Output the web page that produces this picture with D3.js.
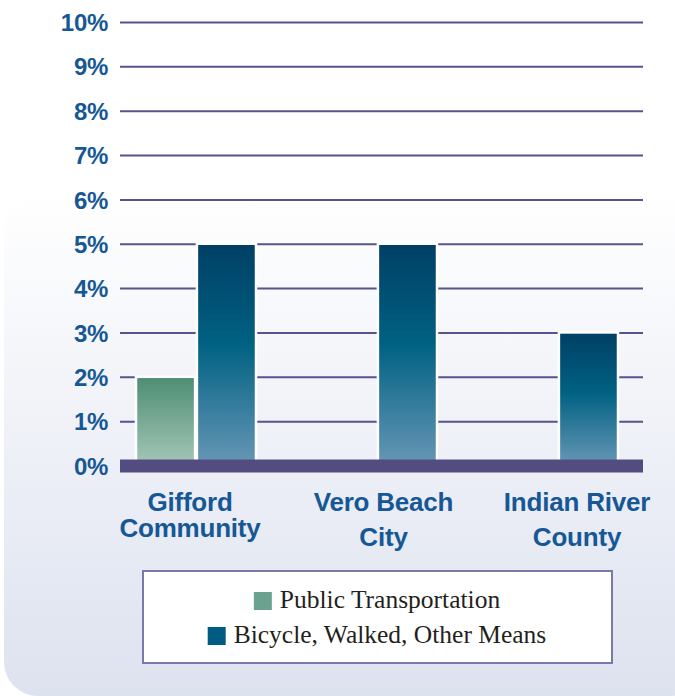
<!DOCTYPE html>
<html>
<head>
<meta charset="utf-8">
<script src="https://cdnjs.cloudflare.com/ajax/libs/d3/7.8.5/d3.min.js"></script>
<style>
  html, body { margin: 0; padding: 0; background: #ffffff; }
  svg { display: block; }
</style>
</head>
<body>
<div id="chart"></div>
<script>
// chart data
var categories = ["Gifford Community", "Vero Beach City", "Indian River County"];
var categoryLines = [["Gifford", "Community"], ["Vero Beach", "City"], ["Indian River", "County"]];
var seriesNames = ["Public Transportation", "Bicycle, Walked, Other Means"];
var publicTransportation = [2, 0, 0];
var bicycleWalkedOther = [5, 5, 3];
var yTicks = [0, 1, 2, 3, 4, 5, 6, 7, 8, 9, 10];

var width = 675;
var height = 696;

var svg = d3.select('#chart')
  .append('svg')
    .attr('width', width)
    .attr('height', height);

var defs = svg.append('defs');

// background panel gradient
var bg = defs.append('linearGradient')
    .attr('id', 'bgGrad')
    .attr('x1', 0).attr('y1', 0).attr('x2', 0).attr('y2', 1);
bg.append('stop').attr('offset', '0%').attr('stop-color', '#ffffff');
bg.append('stop').attr('offset', '100%').attr('stop-color', '#dde2ef');

var greenGrad = defs.append('linearGradient')
    .attr('id', 'greenGrad')
    .attr('x1', 0).attr('y1', 0).attr('x2', 0).attr('y2', 1);
greenGrad.append('stop').attr('offset', '0%').attr('stop-color', '#4d8d73');
greenGrad.append('stop').attr('offset', '100%').attr('stop-color', '#a5c7b8');

var blueGrad = defs.append('linearGradient')
    .attr('id', 'blueGrad')
    .attr('x1', 0).attr('y1', 0).attr('x2', 0).attr('y2', 1);
blueGrad.append('stop').attr('offset', '0%').attr('stop-color', '#003f65');
blueGrad.append('stop').attr('offset', '45%').attr('stop-color', '#006182');
blueGrad.append('stop').attr('offset', '100%').attr('stop-color', '#6897b6');

svg.append('rect')
    .attr('x', 4)
    .attr('y', 195)
    .attr('width', 700)
    .attr('height', 501)
    .attr('rx', 34)
    .attr('fill', 'url(#bgGrad)');

// scales
var y = d3.scaleLinear().domain([0, 10]).range([465.5, 22]);
var x0 = d3.scaleBand().domain(categories).range([136, 618]).paddingInner(0.337);
var x1 = d3.scaleBand().domain(seriesNames).range([0, x0.bandwidth()]).paddingInner(0.03);
var xLabel = d3.scalePoint().domain(categories).range([190, 577]);

var seriesColors = ['url(#greenGrad)', 'url(#blueGrad)'];
var legendColors = ['#6aa28f', '#005b82'];

// gridlines
var yAxis = d3.axisLeft(y)
    .tickValues(yTicks)
    .tickSize(-(643 - 120))
    .tickFormat(function(d) { return d + '%'; });

var gAxis = svg.append('g')
    .attr('transform', 'translate(120,0)')
    .call(yAxis);
gAxis.select('.domain').remove();
gAxis.selectAll('.tick line')
    .attr('stroke', '#57538e')
    .attr('stroke-width', 2);
gAxis.selectAll('.tick text')
    .attr('x', -12)
    .attr('dy', '0.36em')
    .attr('fill', '#165896')
    .attr('font-family', 'Liberation Sans, Arial, sans-serif')
    .attr('font-weight', 'bold')
    .attr('font-size', 24)
    .attr('letter-spacing', -0.3);

// bars
var seriesData = [publicTransportation, bicycleWalkedOther];
var groups = svg.append('g').selectAll('g')
    .data(categories)
  .enter()
    .append('g')
    .attr('transform', function(d) { return 'translate(' + x0(d) + ',0)'; });

groups.selectAll('rect')
    .data(function(d, i) {
        return seriesNames.map(function(s, si) {
            return {series: s, idx: si, value: seriesData[si][i]};
        }).filter(function(e) { return e.value > 0; });
    })
  .enter()
    .append('rect')
    .attr('x', function(d) { return x1(d.series); })
    .attr('y', function(d) { return y(d.value); })
    .attr('width', x1.bandwidth())
    .attr('height', function(d) { return y(0) - y(d.value); })
    .attr('fill', function(d) { return seriesColors[d.idx]; })
    .attr('stroke', '#ffffff')
    .attr('stroke-width', 2.5);

// baseline bar
svg.append('rect')
    .attr('x', 120)
    .attr('y', y(0) - 6)
    .attr('width', 643 - 120)
    .attr('height', 13)
    .attr('fill', '#524c80');

// category labels
var lineGaps = [26, 35, 35];
var catLabels = svg.append('g').selectAll('text')
    .data(categories)
  .enter()
    .append('text')
    .attr('text-anchor', 'middle')
    .attr('fill', '#165896')
    .attr('font-family', 'Liberation Sans, Arial, sans-serif')
    .attr('font-weight', 'bold')
    .attr('font-size', 26)
    .attr('letter-spacing', -0.2);

catLabels.each(function(d, i) {
    var t = d3.select(this);
    categoryLines[i].forEach(function(line, li) {
        t.append('tspan')
            .attr('x', xLabel(d))
            .attr('y', 511 + li * lineGaps[i])
            .text(line);
    });
});

// legend
svg.append('rect')
    .attr('x', 143)
    .attr('y', 571)
    .attr('width', 469)
    .attr('height', 92)
    .attr('fill', '#ffffff')
    .attr('stroke', '#7c79a9')
    .attr('stroke-width', 2);

var legendRows = svg.append('g').selectAll('g')
    .data(seriesNames)
  .enter()
    .append('g');

legendRows.each(function(d, i) {
    var g = d3.select(this);
    var baseline = 608 + i * 35;
    var txt = g.append('text')
        .attr('x', 26)
        .attr('y', baseline)
        .attr('fill', '#231f20')
        .attr('font-family', 'Liberation Serif, Times New Roman, serif')
        .attr('font-size', 25.5)
        .text(d);
    g.append('rect')
        .attr('x', 0)
        .attr('y', baseline - 16)
        .attr('width', 18)
        .attr('height', 18)
        .attr('fill', legendColors[i]);
    var w = 26 + txt.node().getComputedTextLength();
    g.attr('transform', 'translate(' + (377 - w / 2) + ',0)');
});
</script>
</body>
</html>
